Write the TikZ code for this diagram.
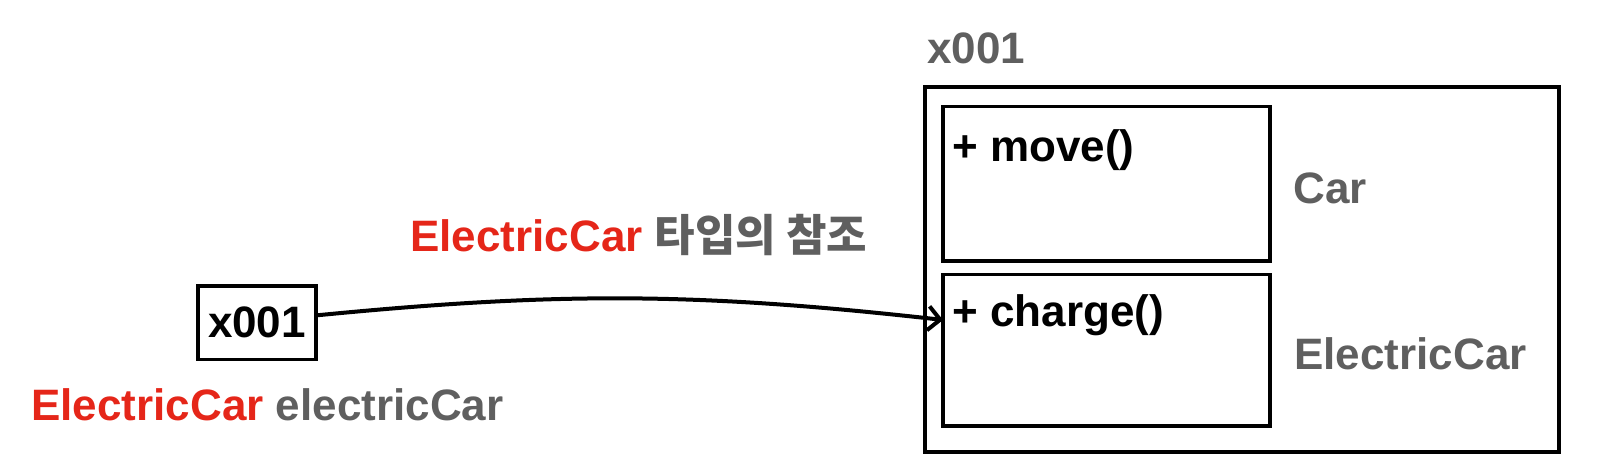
\documentclass[tikz,border=0pt]{standalone}
\usepackage{fontspec}
\setmainfont{Liberation Sans}
\newfontfamily\krfont{Noto Sans CJK KR}
\usetikzlibrary{arrows.meta,positioning,calc}
\definecolor{typered}{RGB}{229,38,25}
\definecolor{namegray}{RGB}{95,95,95}

\begin{document}
\begin{tikzpicture}[
  x=0.5pt, y=0.5pt,
  font=\fontsize{22}{26}\selectfont\bfseries,
  box/.style={draw, line width=1.8pt, inner sep=0pt, outer sep=0pt},
  lbl/.style={anchor=base west, inner sep=0pt},
  arr/.style={-{Straight Barb[length=6pt, width=12pt]}, line width=2pt}
]
\useasboundingbox (0,0) rectangle (1606,-466);
% instance on the heap
\node[box, minimum width=317pt, minimum height=182.5pt] (obj) at (1242,-269.5) {};
\node[lbl, text=namegray] (addr) at (927,-63.5) {x001};
\node[box, minimum width=163.5pt, minimum height=77.25pt] (carpart) at (1106.5,-183.75) {};
\node[box, minimum width=163.5pt, minimum height=75.75pt] (ecpart) at (1106.5,-350.25) {};
\node[lbl] (move) at (952,-161) {+ move()};
\node[lbl] (charge) at (952,-326) {+ charge()};
\node[lbl, text=namegray] (carname) at (1293,-203) {Car};
\node[lbl, text=namegray] (ecname) at (1294,-369) {ElectricCar};
% reference variable
\node[box, minimum width=59pt, minimum height=36.75pt] (ref) at (257,-322.75) {x001};
\node[lbl] (var) at (31,-420) {\textcolor{typered}{ElectricCar} \textcolor{namegray}{electricCar}};
% arrow
\node[lbl] (reflbl) at (410,-251) {\textcolor{typered}{ElectricCar} \textcolor{namegray}{\krfont 타입의 참조}};
\draw[arr] ($(ref.north east)!0.4!(ref.south east)$) to[bend left=6] ($(ecpart.north west)!0.3!(ecpart.south west)$);
\end{tikzpicture}
\end{document}
